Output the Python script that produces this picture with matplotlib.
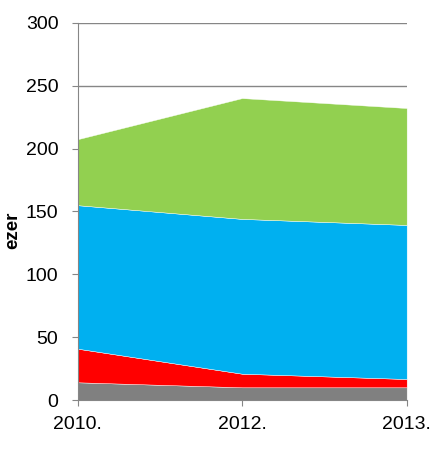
import matplotlib
matplotlib.use('Agg')
import matplotlib.pyplot as plt

years = ['2010.', '2012.', '2013.']
gray_vals = [14.3, 10.3, 10.3]
red_vals = [26.7, 10.8, 6.6]
blue_vals = [114.0, 123.0, 122.4]
green_vals = [52.4, 96.0, 92.9]
colors = ['#808080', '#FF0000', '#00B0F0', '#92D050']

plt.rcParams['font.family'] = ['Liberation Sans', 'DejaVu Sans']

fig = plt.figure(figsize=(4.43, 4.49), dpi=100)
ax = fig.add_axes([0.175, 0.1085, 0.743, 0.841])

x = list(range(len(years)))
ax.stackplot(x, gray_vals, red_vals, blue_vals, green_vals, colors=colors,
             edgecolor='white', linewidth=0.3, zorder=2)

ax.set_xlim(0, 2)
ax.set_ylim(0, 300)
ax.set_yticks(range(0, 301, 50))
ax.set_xticks(x)
ax.set_xticklabels(years)
ax.grid(axis='y', color='#868686', linewidth=1, zorder=0)
ax.set_axisbelow(True)

for s in ['top', 'right']:
    ax.spines[s].set_visible(False)
for s in ['left', 'bottom']:
    ax.spines[s].set_color('#868686')
    ax.spines[s].set_zorder(3)

ax.tick_params(axis='y', length=4.3, color='#868686', pad=9.5, labelsize=14)
ax.tick_params(axis='x', length=4.3, color='#868686', pad=7, labelsize=14)

ax.set_ylabel('ezer', fontsize=13.5, fontweight='bold')
ax.yaxis.set_label_coords(-0.172, 0.45)

fig.savefig('out.png', dpi=100)
